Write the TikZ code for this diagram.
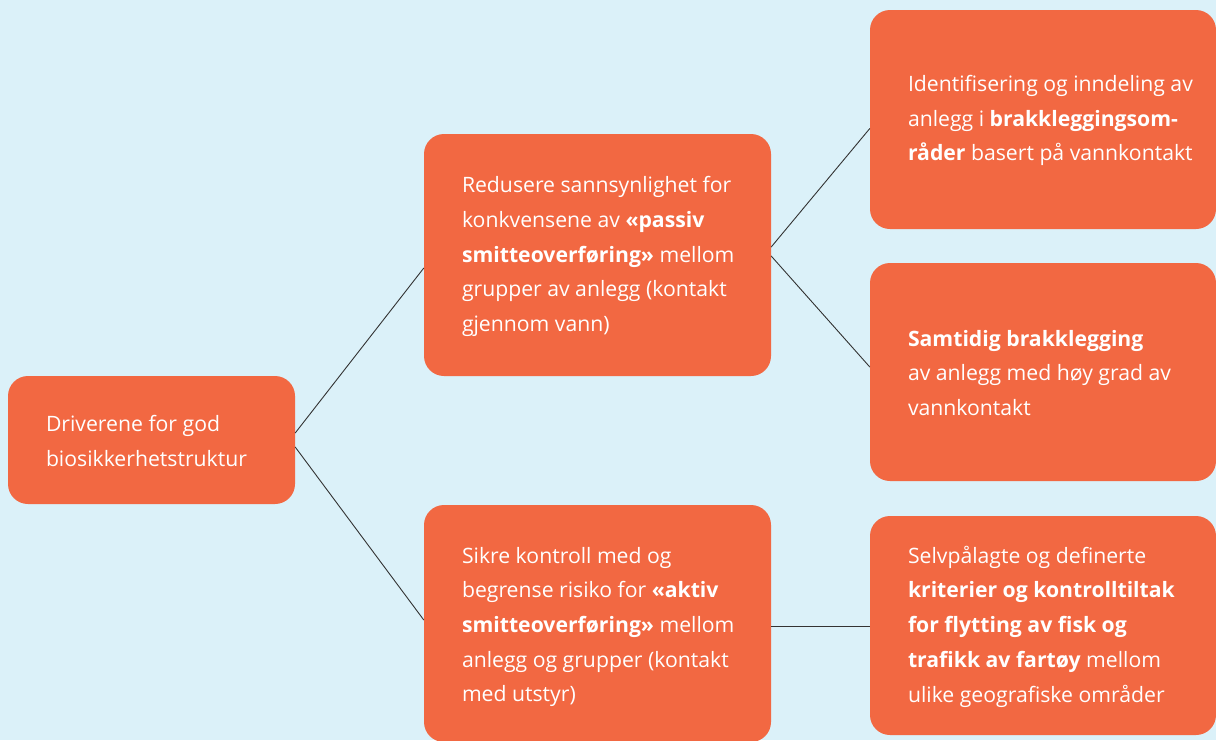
\documentclass[tikz,border=0pt]{standalone}
\usepackage{fontspec}
\setmainfont{Open Sans}
\definecolor{bg}{HTML}{DBF1F9}
\definecolor{org}{HTML}{F26842}
\definecolor{ln}{HTML}{333333}
\begin{document}
\begin{tikzpicture}[x=1pt,y=-1pt,
  box/.style={fill=org, rounded corners=20pt, draw=none, inner sep=0pt},
  txt/.style={text=white, align=left, inner sep=0pt, font=\fontsize{21.2}{34.7}\selectfont, anchor=west},
  conn/.style={draw=ln, line width=0.9pt}]
\fill[bg] (0,0) rectangle (1216,740);
\useasboundingbox (0,0) rectangle (1216,740);
% boxes
\node[box, minimum width=287pt, minimum height=128pt] (root) at (151.5,440) {};
\node[box, minimum width=347pt, minimum height=242pt] (tm) at (597.5,255) {};
\node[box, minimum width=347pt, minimum height=237pt] (bm) at (597.5,623.5) {};
\node[box, minimum width=346pt, minimum height=219pt] (r1) at (1043,119.5) {};
\node[box, minimum width=346pt, minimum height=218pt] (r2) at (1043,372) {};
\node[box, minimum width=346pt, minimum height=219pt] (r3) at (1043,625.5) {};
% texts
\node[txt] (roott) at ([xshift=38pt,yshift=-1pt]root.west) {Driverene for god\\biosikkerhetstruktur};
\node[txt] (tmt) at ([xshift=38pt,yshift=-1.5pt]tm.west) {Redusere sannsynlighet for\\konkvensene av \textbf{«passiv}\\\textbf{smitteoverføring»} mellom\\grupper av anlegg (kontakt\\gjennom vann)};
\node[txt] (bmt) at ([xshift=38pt,yshift=-3.5pt]bm.west) {Sikre kontroll med og\\begrense risiko for \textbf{«aktiv}\\\textbf{smitteoverføring»} mellom\\anlegg og grupper (kontakt\\med utstyr)};
\node[txt] (r1t) at ([xshift=38pt,yshift=-1pt]r1.west) {Identifisering og inndeling av\\anlegg i \textbf{brakkleggingsom-}\\\textbf{råder} basert på vannkontakt};
\node[txt] (r2t) at ([xshift=38pt,yshift=-1pt]r2.west) {\textbf{Samtidig brakklegging}\\av anlegg med høy grad av\\vannkontakt};
\node[txt] (r3t) at ([xshift=38pt,yshift=-1pt]r3.west) {Selvpålagte og definerte\\\textbf{kriterier og kontrolltiltak}\\\textbf{for flytting av fisk og}\\\textbf{trafikk av fartøy} mellom\\ulike geografiske områder};
% connectors
\draw[conn] ([yshift=7pt]root.east) -- ([yshift=-13pt]tm.west);
\draw[conn] ([yshift=-7pt]root.east) -- ([yshift=3.5pt]bm.west);
\draw[conn] ([yshift=8pt]tm.east) -- ([yshift=-9pt]r1.west);
\draw[conn] ([yshift=-1pt]tm.east) -- ([yshift=5pt]r2.west);
\draw[conn] ([yshift=-2.5pt]bm.east) -- ([yshift=-0.5pt]r3.west);
\end{tikzpicture}
\end{document}
